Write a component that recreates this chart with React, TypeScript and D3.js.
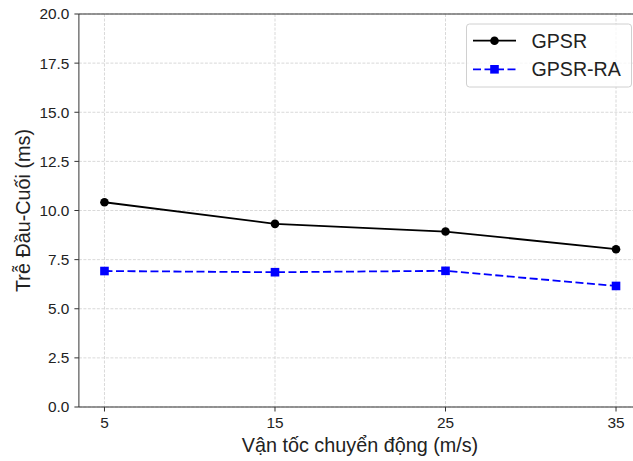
import React from "react";
import * as d3 from "d3";

const speeds = [5, 15, 25, 35];
const gpsr = [10.42, 9.32, 8.93, 8.03];
const gpsrRa = [6.92, 6.86, 6.93, 6.16];
const yTicks = [0, 2.5, 5, 7.5, 10, 12.5, 15, 17.5, 20];
const seriesNames = ["GPSR", "GPSR-RA"];

const W = 633;
const H = 461;
const font = "'Liberation Sans', Arial, sans-serif";

export default function App() {
  const x = d3.scaleLinear().domain([3.5, 36.5]).range([78.9, 641.6]);
  const y = d3.scaleLinear().domain([0, 20]).range([407, 14]);
  const left = x.range()[0];
  const right = x.range()[1];
  const top = y.range()[1];
  const bottom = y.range()[0];

  const line = d3
    .line<number>()
    .x((_, i) => x(speeds[i]))
    .y((d) => y(d));

  const gridColor = "#cfcfcf";
  const spine = "#333";
  const tickLen = 4.5;

  return (
    <svg
      width={W}
      height={H}
      style={{ position: "absolute", left: 0, top: 0, background: "#fff" }}
      fontFamily={font}
    >
      <defs>
        <clipPath id="plot">
          <rect x={left} y={top} width={right - left} height={bottom - top} />
        </clipPath>
      </defs>
      {/* grid */}
      <g stroke={gridColor} strokeWidth={0.8} strokeDasharray="3,1.5">
        {speeds.map((s) => (
          <line key={"gx" + s} x1={x(s)} x2={x(s)} y1={top} y2={bottom} />
        ))}
        {yTicks.map((t) => (
          <line key={"gy" + t} x1={left} x2={right} y1={y(t)} y2={y(t)} />
        ))}
      </g>

      {/* series */}
      <g clipPath="url(#plot)">
        <path d={line(gpsr) ?? ""} fill="none" stroke="#000" strokeWidth={1.8} />
        {gpsr.map((v, i) => (
          <circle key={"c" + i} cx={x(speeds[i])} cy={y(v)} r={4.3} fill="#000" />
        ))}
        <path
          d={line(gpsrRa) ?? ""}
          fill="none"
          stroke="#0000ff"
          strokeWidth={1.8}
          strokeDasharray="8,3.5"
        />
        {gpsrRa.map((v, i) => (
          <rect
            key={"s" + i}
            x={x(speeds[i]) - 4.3}
            y={y(v) - 4.3}
            width={8.6}
            height={8.6}
            fill="#0000ff"
          />
        ))}
      </g>

      {/* spines */}
      <g stroke={spine} strokeWidth={1}>
        <line x1={left} x2={left} y1={top} y2={bottom} />
        <line x1={left} x2={right} y1={bottom} y2={bottom} />
        <line x1={left} x2={right} y1={top} y2={top} />
        <line x1={right} x2={right} y1={top} y2={bottom} />
      </g>

      {/* y ticks */}
      {yTicks.map((t) => (
        <g key={"yt" + t}>
          <line x1={left - tickLen} x2={left} y1={y(t)} y2={y(t)} stroke={spine} />
          <text
            x={left - 9.5}
            y={y(t)}
            dy="0.35em"
            textAnchor="end"
            fontSize={15.4}
            fill="#222"
          >
            {d3.format(".1f")(t)}
          </text>
        </g>
      ))}

      {/* x ticks */}
      {speeds.map((s) => (
        <g key={"xt" + s}>
          <line x1={x(s)} x2={x(s)} y1={bottom} y2={bottom + tickLen} stroke={spine} />
          <text
            x={x(s)}
            y={bottom + 20.5}
            textAnchor="middle"
            fontSize={15.4}
            fill="#222"
          >
            {s}
          </text>
        </g>
      ))}

      {/* axis titles */}
      <text x={360} y={452} textAnchor="middle" fontSize={19.8} fill="#222">
        Vận tốc chuyển động (m/s)
      </text>
      <text
        transform={`translate(29.5,${(top + bottom) / 2}) rotate(-90)`}
        textAnchor="middle"
        fontSize={19.8}
        fill="#222"
      >
        Trễ Đầu-Cuối (ms)
      </text>

      {/* legend */}
      <g>
        <rect
          x={466.5}
          y={24}
          width={165}
          height={63}
          rx={3}
          fill="#fff"
          fillOpacity={0.8}
          stroke="#d0d0d0"
          strokeWidth={1}
        />
        <line x1={473} x2={516} y1={40.7} y2={40.7} stroke="#000" strokeWidth={1.8} />
        <circle cx={494.5} cy={40.7} r={4.3} fill="#000" />
        <text x={531.5} y={40.7} dy="0.35em" fontSize={19.6} fill="#222">
          {seriesNames[0]}
        </text>
        <line
          x1={473}
          x2={516}
          y1={69.3}
          y2={69.3}
          stroke="#0000ff"
          strokeWidth={1.8}
          strokeDasharray="8,3.5"
        />
        <rect x={490.2} y={65} width={8.6} height={8.6} fill="#0000ff" />
        <text x={531.5} y={69.3} dy="0.35em" fontSize={19.6} fill="#222">
          {seriesNames[1]}
        </text>
      </g>
    </svg>
  );
}
